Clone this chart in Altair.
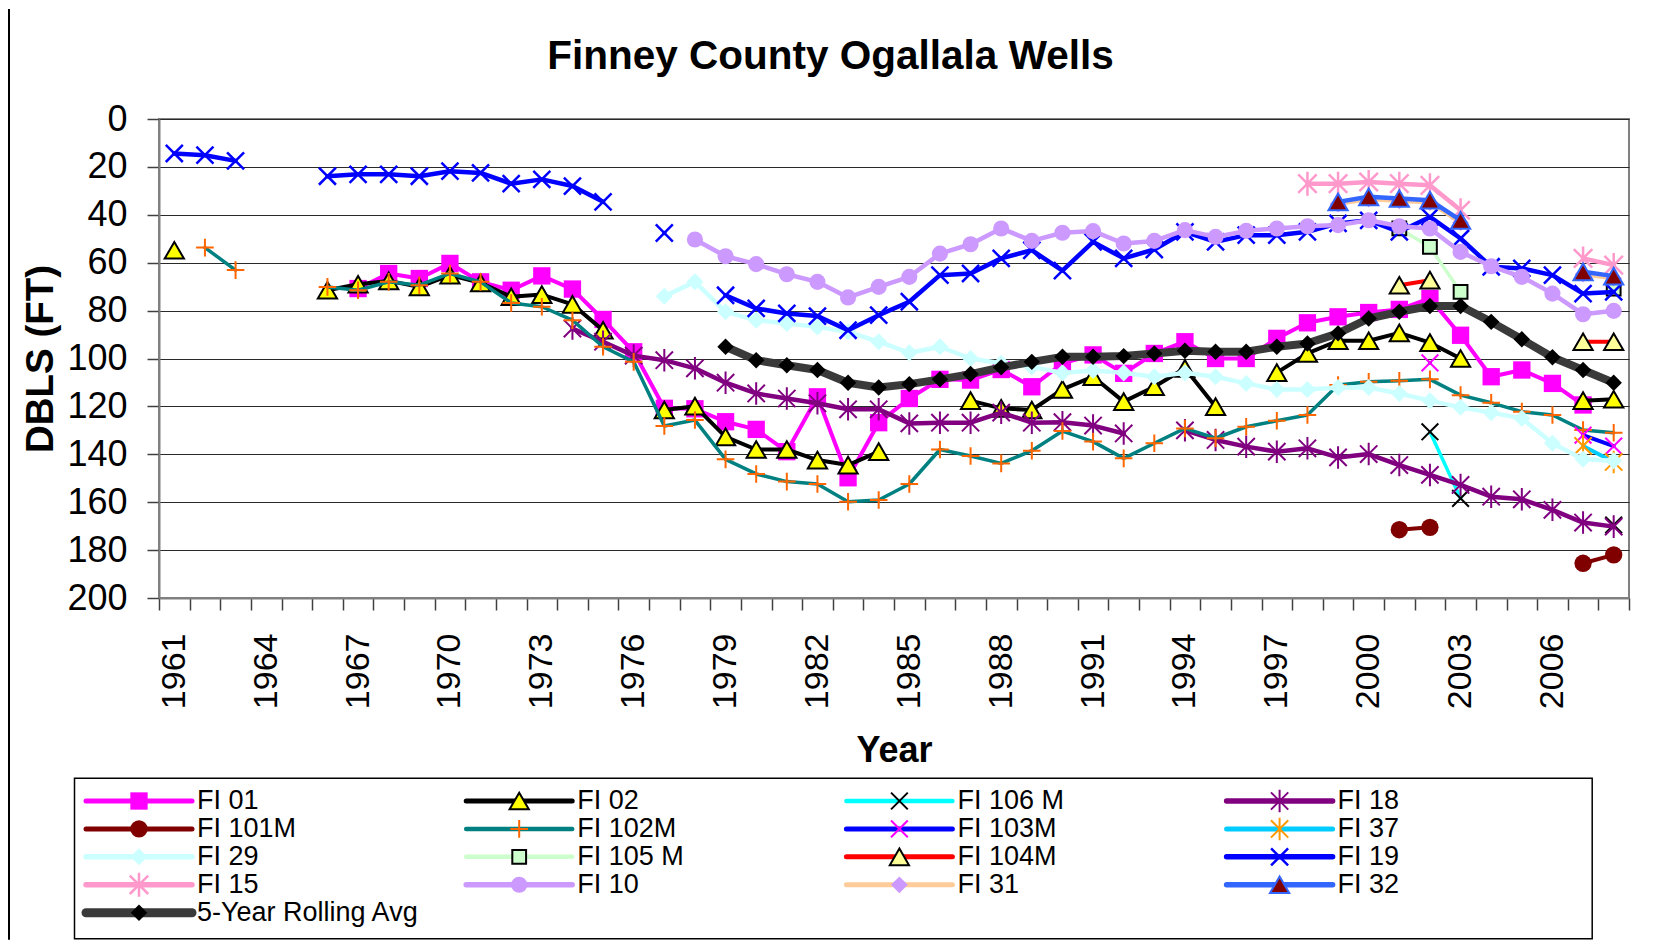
import altair as alt
import pandas as pd

N = None
YEARS = list(range(1961, 2009))

# Depth below land surface (ft); (first year, values by consecutive year, None = no reading)
FI_01 = (1967, [70.8, 64.5, 66.6, 60.3, 68.0, 71.5, 65.5, 71.0, 83.7, 97.2,
                120.8, 121.0, 126.4, 129.6, 138.9, 116.0, 149.8, 126.8, 116.7, 108.7,
                109.0, 104.6, 111.8, 102.0, 98.5, 106.2, 97.9, 93.0, 100.0, 100.0,
                91.6, 85.1, 82.6, 80.8, 79.5, 74.9, 90.3, 107.6, 104.8, 110.4, 119.4])
FI_02 = (1961, [54.8, N, N, N, N, 71.5, 69.0, 67.6, 70.1, 65.2,
                68.4, 74.2, 73.3, 77.4, 88.2, N, 121.5, 119.9, 132.7, 138.0,
                138.0, 142.4, 144.5, 138.9, N, N, 117.6, 120.8, 121.5, 112.9,
                107.6, 118.0, 111.8, 104.1, 120.1, N, 105.9, 97.9, 92.6, 92.6,
                89.3, 93.4, 100.0, N, N, N, 117.6, 117.0])
FI_106M = (2002, [130.6, 158.4, N, N, N, N, 169.5])
FI_18 = (1974, [87.5, 93.0, 98.8, 100.7, 104.1, 110.1, 114.6,
                116.7, 118.7, 121.2, 121.2, 127.1, 126.8, 126.8, 122.6, 126.8, 126.6,
                128.0, 131.3, N, 130.0, 134.0, 136.8, 138.9, 137.5, 141.3, 139.9,
                144.5, 148.6, 152.8, 157.7, 158.8, 163.2, 168.5, 170.2])
FI_101M = (2001, [171.5, 170.5, N, N, N, N, 185.5, 182.0])
FI_102M = (1962, [53.7, 63.1, N, N, 70.1, 71.5, 68.0, 69.4, 64.5,
                  68.0, 76.8, 78.4, 84.0, 95.1, 101.4, 128.2, 125.7, 142.1, 148.2,
                  151.4, 152.4, 159.8, 159.1, 152.4, 138.0, 140.7, 143.8, 138.5, 130.3,
                  134.7, 141.7, 135.4, 129.2, 133.3, 128.5, 126.0, 123.6, 111.1, 109.7,
                  109.3, 108.7, 115.3, 118.5, 122.2, 123.6, 129.9, 131.0])
FI_103M = (2002, [101.8, N, N, N, N, 132.0, 136.6])
FI_37 = (2007, [136.5, 143.2])
FI_29 = (1977, [74.0, 68.0, 80.5, 84.0,
                85.4, 86.8, 88.9, 93.0, 97.6, 95.1, 100.0, 102.0, 103.5, 106.0,
                105.0, 106.0, 107.6, 106.0, 107.6, 110.4, 112.9, 112.9, 112.1, 112.1,
                114.6, 117.6, 120.4, 122.6, 125.0, 135.4, 142.1, 142.7])
FI_105M = (2001, [45.7, 53.4, 72.2, N, N, N, N, 70.8])
FI_104M = (2001, [69.4, 67.3, N, N, N, N, 93.0, 93.0])
FI_19 = (1961, [14.4, 15.1, 17.5, N, N, 23.9, 23.1, 23.1, 23.9, 21.8,
                22.5, 27.0, 25.2, 28.0, 34.6, N, 47.6, N, 73.6, 79.1,
                81.2, 82.3, 88.2, 81.9, 76.3, 65.2, 64.5, 58.2, 54.8, 63.3,
                51.3, 58.2, 54.5, 47.1, 51.3, 48.5, 48.5, 47.1, 43.6, 42.3,
                47.1, 40.9, 49.9, 61.7, 62.4, 65.2, 72.9, 72.2])
FI_15 = (1998, [27.0, 27.0, 26.3, 27.0, 27.7, 38.1, N, N, N, 58.2, 61.0])
FI_10 = (1978, [50.3, 57.3, 60.6,
                64.8, 68.0, 74.5, 70.1, 65.9, 56.2, 52.3, 45.7, 50.9, 47.5,
                46.8, 52.0, 50.9, 46.4, 49.2, 46.7, 45.7, 44.8, 44.3, 42.3,
                44.8, 45.7, 55.5, 61.5, 65.9, 72.9, 81.5, 80.1])
FI_31 = (1999, [35.5, 33.5, 34.2, 34.9, 43.3, N, N, N, 64.8, 66.6])
FI_32 = (1999, [34.6, 32.5, 33.2, 33.9, 42.3, N, N, N, 63.8, 65.6])
ROLLING = (1979, [95.1, 100.7,
                  102.8, 104.8, 110.1, 112.1, 110.7, 108.7, 106.5, 103.7, 101.4, 99.3,
                  99.3, 99.0, 97.9, 96.8, 97.2, 97.2, 95.1, 93.7, 89.5, 83.3,
                  80.5, 78.1, 78.1, 84.7, 92.0, 99.5, 104.8, 110.1])

SERIES = [
    ("FI 01", FI_01), ("FI 02", FI_02), ("FI 106 M", FI_106M), ("FI 18", FI_18),
    ("FI 101M", FI_101M), ("FI 102M", FI_102M), ("FI 103M", FI_103M), ("FI 37", FI_37),
    ("FI 29", FI_29), ("FI 105 M", FI_105M), ("FI 104M", FI_104M), ("FI 19", FI_19),
    ("FI 15", FI_15), ("FI 10", FI_10), ("FI 31", FI_31), ("FI 32", FI_32),
    ("5-Year Rolling Avg", ROLLING),
]
LEGEND_LABELS = {"FI 32": "\u00a0FI 32"}

# ---- styles ----
XS = "M-1,-1L1,1M-1,1L1,-1"
AST = "M-1,-1L1,1M-1,1L1,-1M0,-1.3L0,1.3"
PLUS = "M-1,0L1,0M0,-1L0,1"

STYLE = {
    "FI 01": dict(line="#FF00FF", lw=4, shape="square", fill="#FF00FF", stroke=None, sw=0, size=300),
    "FI 02": dict(line="#000000", lw=4, shape="triangle-up", fill="#FFFF00", stroke="#000000", sw=2, size=370),
    "FI 106 M": dict(line="#00FFFF", lw=3.5, shape=XS, fill=None, stroke="#000000", sw=2, size=280),
    "FI 18": dict(line="#800080", lw=4.5, shape=AST, fill=None, stroke="#800080", sw=2, size=300),
    "FI 101M": dict(line="#800000", lw=4, shape="circle", fill="#800000", stroke=None, sw=0, size=300),
    "FI 102M": dict(line="#008080", lw=3.5, shape=PLUS, fill=None, stroke="#FF6600", sw=2, size=310),
    "FI 103M": dict(line="#0000FF", lw=4, shape=XS, fill=None, stroke="#FF00FF", sw=2, size=280),
    "FI 37": dict(line="#00CCFF", lw=4, shape=AST, fill=None, stroke="#FF9900", sw=2, size=300),
    "FI 29": dict(line="#CCFFFF", lw=4.5, shape="diamond", fill="#CCFFFF", stroke=None, sw=0, size=290),
    "FI 105 M": dict(line="#CCFFCC", lw=3.5, shape="square", fill="#CCFFCC", stroke="#000000", sw=2, size=190),
    "FI 104M": dict(line="#FF0000", lw=4, shape="triangle-up", fill="#FFFF99", stroke="#000000", sw=2, size=370),
    "FI 19": dict(line="#0000FF", lw=4.5, shape=XS, fill=None, stroke="#0000FF", sw=2.5, size=290),
    "FI 15": dict(line="#FF99CC", lw=4.5, shape=AST, fill=None, stroke="#FF99CC", sw=2.5, size=340),
    "FI 10": dict(line="#CC99FF", lw=4.5, shape="circle", fill="#CC99FF", stroke=None, sw=0, size=260),
    "FI 31": dict(line="#FFCC99", lw=4, shape="diamond", fill="#CC99FF", stroke=None, sw=0, size=280),
    "FI 32": dict(line="#3366FF", lw=4.5, shape="triangle-up", fill="#800000", stroke="#3366FF", sw=2, size=370),
    "5-Year Rolling Avg": dict(line="#3a3a3a", lw=8, shape="diamond", fill="#000000", stroke=None, sw=0, size=270),
}

FONT = "Liberation Sans"

# ---- data table ----
rows = []
for name, (start, vals) in SERIES:
    seg = 0
    prev = None
    for i, v in enumerate(vals):
        if v is None:
            if prev is not None:
                seg += 1
        else:
            rows.append(dict(series=name, year=start + i, value=v, seg=seg))
        prev = v
df = pd.DataFrame(rows)

leg_rows = []
for k, (name, _) in enumerate(SERIES):
    leg_rows.append(dict(series=name, label=LEGEND_LABELS.get(name, name), col=k % 4, row=k // 4))
leg_df = pd.DataFrame(leg_rows)

# ---- encodings ----
x_enc = alt.X(
    "year:O",
    scale=alt.Scale(type="band", domain=YEARS, paddingInner=0, paddingOuter=0),
    axis=alt.Axis(
        title="Year", labelExpr="(datum.value - 1961) % 3 == 0 ? datum.label : ''",
        labelAngle=270, labelFontSize=34, labelPadding=23, labelOverlap=False,
        tickBand="extent", tickSize=12, tickColor="#404040", tickWidth=1.5,
        domainColor="#808080", domainWidth=2, grid=False,
        titleFontSize=36, titleFontWeight="bold", titlePadding=25,
    ),
)
y_enc = alt.Y(
    "value:Q",
    scale=alt.Scale(domain=[0, 200], reverse=True, nice=False, zero=False),
    axis=alt.Axis(
        values=list(range(0, 201, 20)), title="DBLS (FT)", grid=True,
        gridColor="#2a2a2a", gridWidth=1.2, tickSize=12, tickColor="#404040", tickWidth=1.5,
        domainColor="#808080", domainWidth=2, labelFontSize=36, labelPadding=20,
        titleFontSize=38.5, titleFontWeight="bold", titlePadding=6,
    ),
)


def point_kw(st):
    kw = dict(shape=st["shape"], size=st["size"], opacity=1)
    if st["fill"]:
        kw.update(filled=True, fill=st["fill"], color=st["fill"])
    else:
        kw.update(filled=False, color=st["stroke"])
    if st["stroke"]:
        kw.update(stroke=st["stroke"], strokeWidth=st["sw"])
    else:
        kw.update(strokeWidth=0)
    return kw


main_layers = []
for name, _ in SERIES:
    st = STYLE[name]
    base = alt.Chart().transform_filter(alt.datum.series == name)
    main_layers.append(
        base.mark_line(color=st["line"], strokeWidth=st["lw"], strokeJoin="round", strokeCap="round")
        .encode(x=x_enc, y=y_enc, detail="seg:N")
    )
    main_layers.append(base.mark_point(**point_kw(st)).encode(x=x_enc, y=y_enc))
main = alt.layer(*main_layers, data=df)

# ---- legend (custom, positioned through its own scales) ----
lx = alt.X("col:Q", scale=alt.Scale(domain=[0, 4], range=[-73, 1447.8], nice=False, zero=False), axis=None)
ly = alt.Y("row:Q", scale=alt.Scale(domain=[0, 4], range=[682, 793.7], nice=False, zero=False), axis=None)

leg_layers = []
for name, _ in SERIES:
    st = STYLE[name]
    base = alt.Chart().transform_filter(alt.datum.series == name)
    leg_layers.append(
        base.mark_rule(color=st["line"], strokeWidth=st["lw"] + 1, strokeCap="round", x2Offset=106)
        .encode(x=lx, x2="col:Q", y=ly)
    )
    leg_layers.append(base.mark_point(xOffset=53, **point_kw(st)).encode(x=lx, y=ly))
leg_layers.append(
    alt.Chart().mark_text(align="left", baseline="middle", dx=111, fontSize=27, font=FONT, color="black")
    .encode(x=lx, y=ly, text="label:N")
)
legend = alt.layer(*leg_layers, data=leg_df)

one = pd.DataFrame({"k": [0]})
legend_box = alt.Chart(one).mark_rect(fill="white", fillOpacity=0, stroke="black", strokeWidth=1.5).encode(
    x=alt.value(-84.5), x2=alt.value(1433.2), y=alt.value(659.3), y2=alt.value(819.7)
)
outer_left = alt.Chart(one).mark_rule(color="black", strokeWidth=2).encode(
    x=alt.value(-150), y=alt.value(-110), y2=alt.value(820.7)
)
title = alt.Chart(one).mark_text(
    text="Finney County Ogallala Wells", fontSize=40.5, fontWeight="bold", font=FONT,
    align="center", baseline="middle", color="black"
).encode(x=alt.value(671.5), y=alt.value(-62))

chart = (
    alt.layer(legend_box, outer_left, title, main, legend)
    .resolve_scale(x="independent", y="independent")
    .properties(width=1470, height=479, padding=0, background="white")
    .configure_view(stroke="#808080", strokeWidth=2)
    .configure_axis(labelFont=FONT, titleFont=FONT, labelColor="black", titleColor="black")
)

chart.save("out.html", embed_options={"renderer": "svg", "actions": False})
